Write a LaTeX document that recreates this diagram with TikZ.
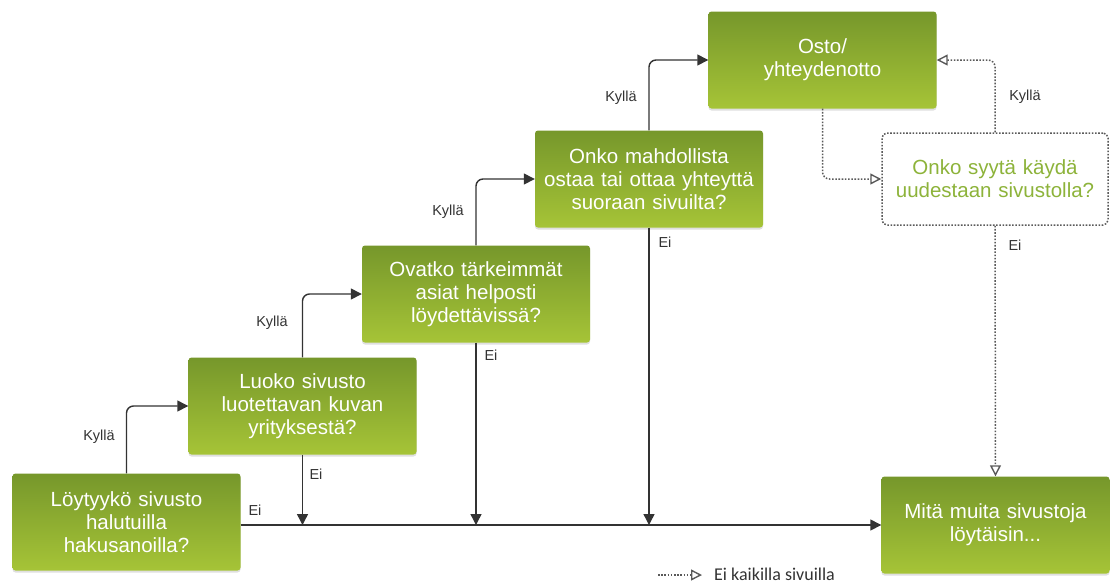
\documentclass[tikz,border=0pt]{standalone}
\usepackage{fontspec}
\setmainfont{Liberation Sans}
\newfontfamily\legendfont{Carlito}
\usetikzlibrary{arrows.meta,shadows}
\definecolor{gtop}{HTML}{76972B}
\definecolor{gbot}{HTML}{A6C437}
\definecolor{ln}{HTML}{333333}
\definecolor{dl}{HTML}{5A5A5A}
\definecolor{gtext}{HTML}{8DB33A}
\begin{document}
\begin{tikzpicture}[x=1pt,y=-1pt,
  box/.style={rounded corners=3pt, top color=gtop, bottom color=gbot, draw=none,
    minimum width=228pt, minimum height=97pt, text width=222pt, inner xsep=3pt, align=center,
    text=white, font=\fontsize{20.5}{23}\selectfont,
    drop shadow={shadow xshift=0pt, shadow yshift=-2pt, opacity=0.25}},
  dbox/.style={rounded corners=5pt, draw=dl, dash pattern=on 1.6pt off 1.6pt, line width=1.5pt, fill=white,
    minimum width=226pt, minimum height=92pt, text width=220pt, inner xsep=3pt, align=center,
    text=gtext, font=\fontsize{20.5}{23}\selectfont},
  conn/.style={draw=ln, line width=1.4pt, rounded corners=7pt, -{Triangle[length=11pt,width=11pt]}},
  dconn/.style={draw=dl, line width=1.5pt, dash pattern=on 1.6pt off 1.6pt, rounded corners=7pt, -{Triangle[open,length=11pt,width=11pt,line width=1.4pt]}},
  lbl/.style={font=\fontsize{14.5}{16}\selectfont, text=ln, inner sep=0pt}
]
\useasboundingbox (0,0) rectangle (1110,587);

\node[box] (b1) at (126.5,522) {Löytyykö sivusto\\halutuilla\\hakusanoilla?};
\node[box] (b2) at (302.5,406) {Luoko sivusto\\luotettavan kuvan\\yrityksestä?};
\node[box] (b3) at (476,294) {Ovatko tärkeimmät\\asiat helposti\\löydettävissä?};
\node[box] (b4) at (649,179) {Onko mahdollista\\ostaa tai ottaa yhteyttä\\suoraan sivuilta?};
\node[box] (b5) at (822.5,60) {Osto/\\yhteydenotto};
\node[dbox] (b6) at (995,179) {Onko syytä käydä\\uudestaan sivustolla?};
\node[box] (b7) at (995.5,525) {Mitä muita sivustoja\\löytäisin...};

% Kyllä connectors
\draw[conn] (b1.north) |- (b2.west);
\draw[conn] (b2.north) |- (b3.west);
\draw[conn] (b3.north) |- (b4.west);
\draw[conn] (b4.north) |- (b5.west);

% Ei connectors
\draw[conn] (b1.east |- b7.west) -- (b7.west);
\draw[conn] (b2.south) -- (b2.south |- b7.west);
\draw[conn] (b3.south) -- (b3.south |- b7.west);
\draw[conn] (b4.south) -- (b4.south |- b7.west);

% dotted connectors
\draw[dconn] (b5.south) |- (b6.west);
\draw[dconn] (b6.north) |- (b5.east);
\draw[dconn] (b6.south) -- (b7.north);

% labels
\node[lbl] (k1) at (99,437) {Kyllä};
\node[lbl] (k2) at (272,323) {Kyllä};
\node[lbl] (k3) at (448,212) {Kyllä};
\node[lbl] (k4) at (621,98) {Kyllä};
\node[lbl] (k5) at (1025,97) {Kyllä};
\node[lbl] (e1) at (255,510) {Ei};
\node[lbl] (e2) at (316,474) {Ei};
\node[lbl] (e3) at (491,355) {Ei};
\node[lbl] (e4) at (665,242) {Ei};
\node[lbl] (e5) at (1015,245) {Ei};

% legend
\coordinate (la) at (658,575);
\coordinate (lb) at (702,575);
\draw[dconn] (la) -- (lb);
\node[anchor=west, inner sep=0pt, font=\legendfont\fontsize{18}{20}\selectfont, text=ln] (lt) at (714,574) {Ei kaikilla sivuilla};
\end{tikzpicture}
\end{document}
